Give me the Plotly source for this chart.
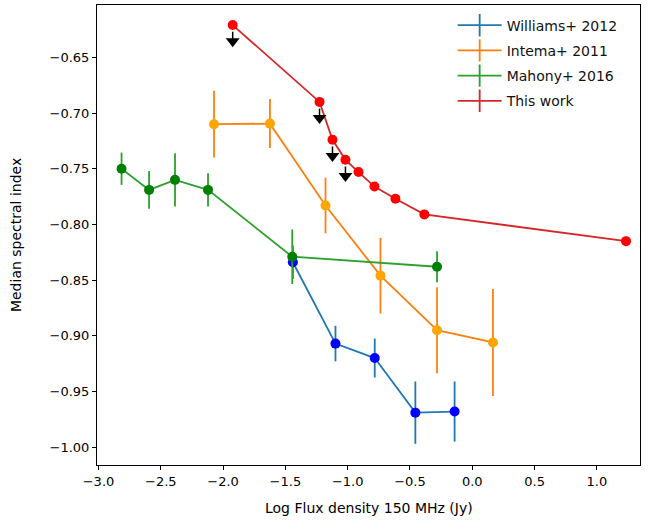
import plotly.graph_objects as go

# ---- data ----
williams_x = [-1.440, -1.098, -0.783, -0.457, -0.142]
williams_y = [-0.834, -0.907, -0.920, -0.969, -0.968]
williams_err = [0.015, 0.016, 0.0175, 0.028, 0.027]

intema_x = [-2.073, -1.624, -1.178, -0.737, -0.283, 0.166]
intema_y = [-0.710, -0.7095, -0.783, -0.846, -0.895, -0.906]
intema_err = [0.030, 0.022, 0.025, 0.034, 0.0386, 0.048]

mahony_x = [-2.815, -2.594, -2.386, -2.121, -1.445, -0.283]
mahony_y = [-0.750, -0.769, -0.760, -0.769, -0.829, -0.838]
mahony_err = [0.0145, 0.017, 0.024, 0.015, 0.0245, 0.014]

thiswork_x = [-1.923, -1.226, -1.122, -1.018, -0.913, -0.785, -0.617, -0.385, 1.234]
thiswork_y = [-0.621, -0.690, -0.724, -0.742, -0.753, -0.766, -0.777, -0.791, -0.815]
n_upper_limits = 4  # first four points are upper limits

x_ticks = [-3.0, -2.5, -2.0, -1.5, -1.0, -0.5, 0.0, 0.5, 1.0]
y_ticks = [-1.00, -0.95, -0.90, -0.85, -0.80, -0.75, -0.70, -0.65]

series = [
    ("Williams+ 2012", williams_x, williams_y, williams_err, "#1f77b4", "blue"),
    ("Intema+ 2011", intema_x, intema_y, intema_err, "#ff7f0e", "orange"),
    ("Mahony+ 2016", mahony_x, mahony_y, mahony_err, "#2ca02c", "green"),
    ("This work", thiswork_x, thiswork_y, None, "#d62728", "red"),
]

FONT = "DejaVu Sans"
fig = go.Figure()

for i, (name, xs, ys, err, lc, mc) in enumerate(series):
    fig.add_trace(go.Scatter(
        x=xs, y=ys, mode="lines+markers",
        line=dict(color=lc, width=1.8),
        marker=dict(color=mc, size=10, line=dict(width=0)),
        error_y=dict(type="data", array=err, visible=err is not None,
                     color=lc, thickness=1.8, width=0),
        showlegend=False, hoverinfo="x+y",
    ))

# upper-limit arrows
ul_x = thiswork_x[:n_upper_limits]
ul_y = thiswork_y[:n_upper_limits]
stem_x, stem_y = [], []
for xv, yv in zip(ul_x, ul_y):
    stem_x += [xv, xv, None]
    stem_y += [yv - 0.006, yv - 0.013, None]
fig.add_trace(go.Scatter(x=stem_x, y=stem_y, mode="lines",
                         line=dict(color="black", width=1.5),
                         showlegend=False, hoverinfo="skip"))
fig.add_trace(go.Scatter(x=ul_x, y=[v - 0.0145 for v in ul_y], mode="markers",
                         marker=dict(symbol="triangle-down", size=12, color="black"),
                         showlegend=False, hoverinfo="skip"))

# legend entries (errorbar style)
for i, (name, xs, ys, err, lc, mc) in enumerate(series):
    fig.add_trace(go.Scatter(
        x=[None], y=[None], mode="lines+markers", name=name,
        line=dict(color=lc, width=1.8),
        marker=dict(symbol="line-ns-open", size=16, color=lc, line=dict(color=lc, width=1.8)),
        legendgroup=name,
    ))

axis_common = dict(
    showline=True, linecolor="black", linewidth=1, mirror=True,
    ticks="outside", ticklen=4, tickcolor="black", tickwidth=1,
    showgrid=False, zeroline=False, automargin=False,
    tickfont=dict(family=FONT, size=13, color="black"),
)

fig.update_layout(
    width=649, height=523,
    margin=dict(l=97, r=9, t=5, b=58),
    paper_bgcolor="white", plot_bgcolor="white",
    font=dict(family=FONT, size=14, color="black"),
    xaxis=dict(range=[-3.012, 1.346], tickvals=x_ticks, tickformat=".1f", **axis_common),
    yaxis=dict(range=[-1.016, -0.603], tickvals=y_ticks, tickformat=".2f", **axis_common),
    legend=dict(x=0.655, y=0.99, xanchor="left", yanchor="top",
                bgcolor="rgba(255,255,255,0)", borderwidth=0,
                font=dict(family=FONT, size=14, color="#111"),
                itemwidth=44,
                tracegroupgap=4, traceorder="grouped"),
    annotations=[
        dict(text="Log Flux density 150 MHz (Jy)", xref="paper", yref="paper",
             x=0.5, y=-0.093, xanchor="center", yanchor="middle", showarrow=False,
             font=dict(family=FONT, size=14, color="black")),
        dict(text="Median spectral index", xref="paper", yref="paper",
             x=-0.149, y=0.5, xanchor="center", yanchor="middle", showarrow=False,
             textangle=-90, font=dict(family=FONT, size=14, color="black")),
    ],
)

fig.write_html("out.html", config={"displayModeBar": False},
               post_script="document.body.style.margin='0';")
